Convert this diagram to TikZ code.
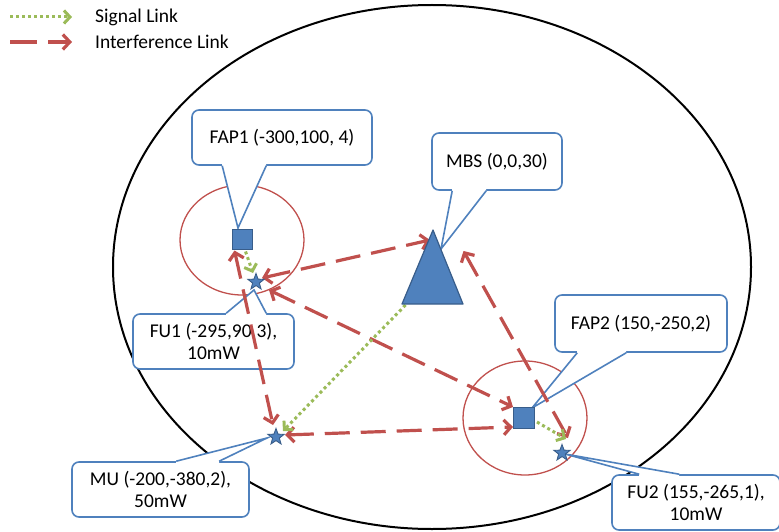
\documentclass[tikz,border=0pt]{standalone}
\usepackage{fontspec}
\setmainfont{Carlito}
\usetikzlibrary{arrows.meta,shapes.geometric,calc}
\definecolor{intred}{HTML}{C0504D}
\definecolor{siggreen}{HTML}{9BBB59}
\definecolor{nodeblue}{HTML}{4F81BD}
\definecolor{nodeedge}{HTML}{385D8A}
\definecolor{calloutedge}{HTML}{4F81BD}
\pgfdeclarelayer{back}
\pgfdeclarelayer{front}
\pgfsetlayers{back,main,front}
% callout pointer: white wedge that also hides the box border at its base
\newcommand\calltail[2]{%
  \fill[white] ($(#1a)+(0,#2)$) -- (#1a) -- (#1t) -- (#1b) -- ($(#1b)+(0,#2)$) -- cycle;
  \draw[callline] (#1a) -- (#1t) -- (#1b);}
\begin{document}
\begin{tikzpicture}[x=1pt,y=-1pt,
  font=\fontsize{19.5}{22}\selectfont,
  intf/.style={draw=intred, line width=3.2pt, dash pattern=on 25pt off 11pt,
    {Straight Barb[length=7pt,width=15pt]}-{Straight Barb[length=7pt,width=15pt]}},
  sig/.style={draw=siggreen, line width=3pt, dash pattern=on 3pt off 3pt,
    -{Straight Barb[length=6pt,width=13pt]}},
  callout/.style={draw=calloutedge, line width=1.6pt, fill=white, rounded corners=7pt,
    align=center, inner sep=0pt},
  callline/.style={draw=calloutedge, line width=1.6pt, line join=miter},
  fbox/.style={rectangle, draw=nodeedge, fill=nodeblue, line width=1.2pt,
    minimum size=20pt, inner sep=0pt},
  ustar/.style={star, star points=5, star point ratio=2.4, draw=nodeedge, fill=nodeblue,
    line width=0.9pt, minimum size=17pt, inner sep=0pt},
  cell/.style={draw=intred, line width=1.3pt},
]
\useasboundingbox (0,0) rectangle (779,532);

% macro cell and femto cells
\begin{pgfonlayer}{back}
  \draw[line width=2pt] (432,267) ellipse [x radius=319, y radius=262];
  \draw[cell] (242,240) ellipse [x radius=62, y radius=55];
  \draw[cell] (525,418) ellipse [x radius=62, y radius=57];
\end{pgfonlayer}

% base stations and users
\begin{pgfonlayer}{front}
  \node[fbox] (fap1) at (242.5,239.5) {};
  \node[fbox, minimum size=21pt] (fap2) at (524,418) {};
  \coordinate (mbs) at (432.5,267);
  \draw[draw=nodeedge, fill=nodeblue, line width=1.2pt, line join=round]
    ($(mbs)+(0.5,-37)$) -- ($(mbs)+(30.5,37)$) -- ($(mbs)+(-30.5,37)$) -- cycle;
  \node[ustar] (fu1) at (256,282) {};
  \node[ustar] (mu) at (276,437) {};
  \node[ustar] (fu2) at (562,453) {};
\end{pgfonlayer}

% legend
\coordinate (lg1a) at (10,17);  \coordinate (lg1b) at (72,17);
\coordinate (lg2a) at (10,42);  \coordinate (lg2b) at (72,42);
\draw[sig] (lg1a) -- (lg1b);
\draw[draw=intred, line width=3.2pt, dash pattern=on 27pt off 11pt,
  -{Straight Barb[length=7pt,width=15pt]}] (lg2a) -- (lg2b);
\node[anchor=west, inner sep=0pt] (lgsig) at (95,17) {Signal Link};
\node[anchor=west, inner sep=0pt] (lgint) at (95,42) {Interference Link};

% callouts
\node[callout, minimum width=180pt, minimum height=55pt] (cfap1) at (282,137.5) {FAP1 (-300,100, 4)};
\coordinate (t1a) at ($(cfap1.south west)+(31,0)$);
\coordinate (t1b) at ($(cfap1.south west)+(75,0)$);
\coordinate (t1t) at ($(fap1)+(-4.5,-11.5)$);
\calltail{t1}{-2}

\node[callout, minimum width=130pt, minimum height=57pt] (cmbs) at (497,161.5) {MBS (0,0,30)};
\coordinate (t2a) at ($(cmbs.south west)+(21,0)$);
\coordinate (t2b) at ($(cmbs.south west)+(55,0)$);
\coordinate (t2t) at ($(mbs)+(8.5,-18)$);
\calltail{t2}{-2}

\node[callout, minimum width=172pt, minimum height=57pt] (cfap2) at (641,323.5) {FAP2 (150,-250,2)};
\coordinate (t3a) at ($(cfap2.south west)+(23,0)$);
\coordinate (t3b) at ($(cfap2.south west)+(72,0)$);
\coordinate (t3t) at ($(fap2)+(8,-10)$);
\calltail{t3}{-2}

\node[callout, minimum width=161pt, minimum height=55pt] (cfu1) at (213.5,341.5) {FU1 (-295,90,3),\\10mW};
\coordinate (t4a) at ($(cfu1.north west)+(94,0)$);
\coordinate (t4b) at ($(cfu1.north west)+(134,0)$);
\coordinate (t4t) at ($(fu1)+(-2,8)$);
\calltail{t4}{2}

\node[callout, minimum width=177pt, minimum height=55pt] (cmu) at (160.5,489.5) {MU (-200,-380,2),\\50mW};
\coordinate (t5a) at ($(cmu.north west)+(105,0)$);
\coordinate (t5b) at ($(cmu.north west)+(148,0)$);
\coordinate (t5t) at ($(mu)+(-9,1)$);
\calltail{t5}{2}

\node[callout, minimum width=168pt, minimum height=55pt] (cfu2) at (696,502.5) {FU2 (155,-265,1),\\10mW};
\coordinate (t6a) at ($(cfu2.north west)+(28,0)$);
\coordinate (t6b) at ($(cfu2.north west)+(68,0)$);
\coordinate (t6t) at ($(fu2)+(3,1)$);
\calltail{t6}{2}

% interference links
\draw[intf] ($(fu1)+(6,-4)$) -- ($(mbs)+(-2.5,-27)$);
\draw[intf] ($(fu1)+(13,8)$) -- ($(fap2)+(-11,-11)$);
\draw[intf] ($(mu)+(9,-2)$) -- ($(fap2)+(-11,9)$);
\draw[intf] ($(mbs)+(31,-16)$) -- ($(fu2)+(6,-15)$);
\draw[intf] ($(fap1)+(-8,11)$) -- ($(mu)+(-3,-12)$);

% signal links
\draw[sig] ($(fap1)+(3,12)$) -- ($(fu1)+(-3,-9)$);
\draw[sig] ($(mbs)+(-27,38)$) -- ($(mu)+(7,-6)$);
\draw[sig] ($(fap2)+(13,4)$) -- ($(fu2)+(4,-14)$);
\end{tikzpicture}
\end{document}
